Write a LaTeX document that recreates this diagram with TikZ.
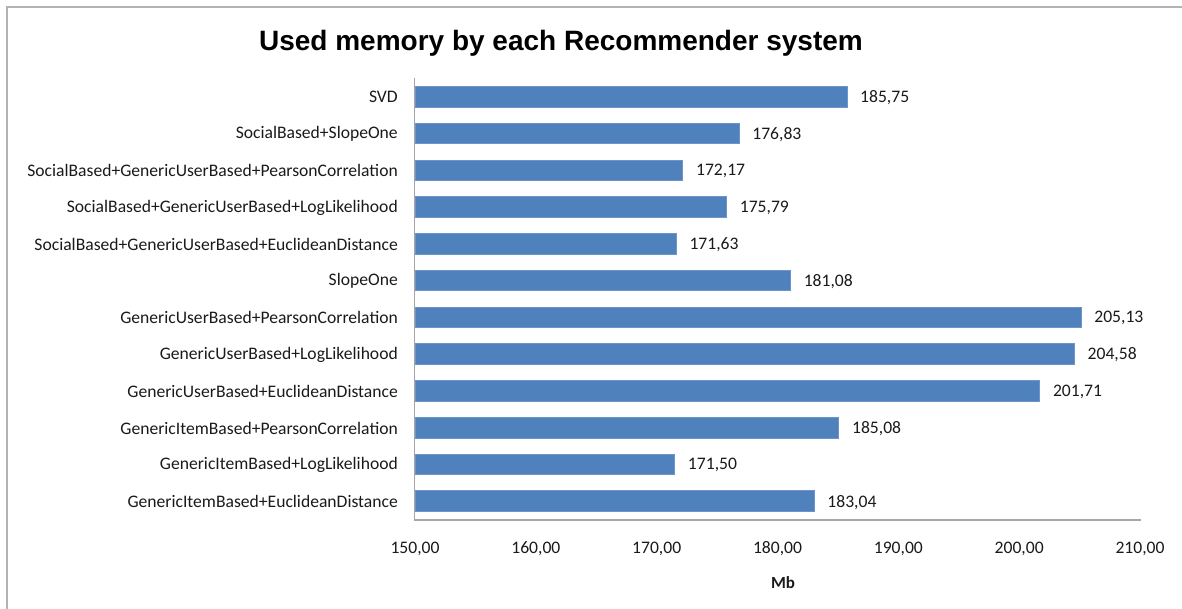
\documentclass[tikz,border=0pt]{standalone}
\usepackage{fontspec}
\setmainfont{Carlito}
\newfontfamily\titlefont{Liberation Sans}
\definecolor{barblue}{HTML}{4F81BD}
\definecolor{baredge}{HTML}{6E93C8}
\definecolor{axisgray}{HTML}{A6A6A6}
\definecolor{framegray}{HTML}{B3B3B3}
\definecolor{txt}{HTML}{1A1A1A}
\tikzset{
  lblfont/.style={font=\fontsize{17.6}{19}\selectfont, text=txt},
  catlabel/.style={anchor=east, inner sep=0pt, lblfont},
  vallabel/.style={anchor=west, inner sep=0pt, lblfont},
  ticklabel/.style={anchor=center, inner sep=0pt, lblfont},
  bar/.style={fill=barblue, draw=baredge, line width=0.8pt},
  axisline/.style={draw=axisgray, line width=1.6pt},
}
\begin{document}
\begin{tikzpicture}[x=1pt, y=-1pt]
\useasboundingbox (0,0) rectangle (1182,609);
% chart frame (only top and left edges fall inside the page)
\draw[framegray, line width=2pt] (7,615) -- (7,7) -- (1190,7);
% title
\node[font=\titlefont\bfseries\fontsize{28}{32}\selectfont, text=black] (title) at (561,43) {Used memory by each Recommender system};
% bars: x = 415 + (value-150)*12.083, rows 36.77 apart
\foreach \name/\val/\txt [count=\i from 0] in {
  SVD/185.75/{185,75},
  SocialBased+SlopeOne/176.83/{176,83},
  SocialBased+GenericUserBased+PearsonCorrelation/172.17/{172,17},
  SocialBased+GenericUserBased+LogLikelihood/175.79/{175,79},
  SocialBased+GenericUserBased+EuclideanDistance/171.63/{171,63},
  SlopeOne/181.08/{181,08},
  GenericUserBased+PearsonCorrelation/205.13/{205,13},
  GenericUserBased+LogLikelihood/204.58/{204,58},
  GenericUserBased+EuclideanDistance/201.71/{201,71},
  GenericItemBased+PearsonCorrelation/185.08/{185,08},
  GenericItemBased+LogLikelihood/171.50/{171,50},
  GenericItemBased+EuclideanDistance/183.04/{183,04}} {
  \pgfmathsetmacro{\yc}{96.7+\i*36.77}
  \pgfmathsetmacro{\xe}{415+(\val-150)*12.083}
  \draw[bar] (415,\yc-10.3) rectangle (\xe,\yc+10.3);
  \node[catlabel] (cat\i) at (398,\yc+0.5) {\name};
  \node[vallabel] (val\i) at (\xe+13,\yc+1) {\txt};
}
% axes
\coordinate (origin) at (414.5,520);
\coordinate (ytop) at (414.5,78);
\coordinate (xend) at (1141,520);
\draw[axisline] (ytop) -- (origin) -- (xend);
% x tick labels
\foreach \v [count=\k from 0] in {150,160,170,180,190,200,210} {
  \node[ticklabel] (tick\k) at (415+\k*120.83,549) {\v,00};
}
\node[font=\bfseries\fontsize{17}{19}\selectfont, text=txt] (xtitle) at (783,583) {Mb};
\end{tikzpicture}
\end{document}
